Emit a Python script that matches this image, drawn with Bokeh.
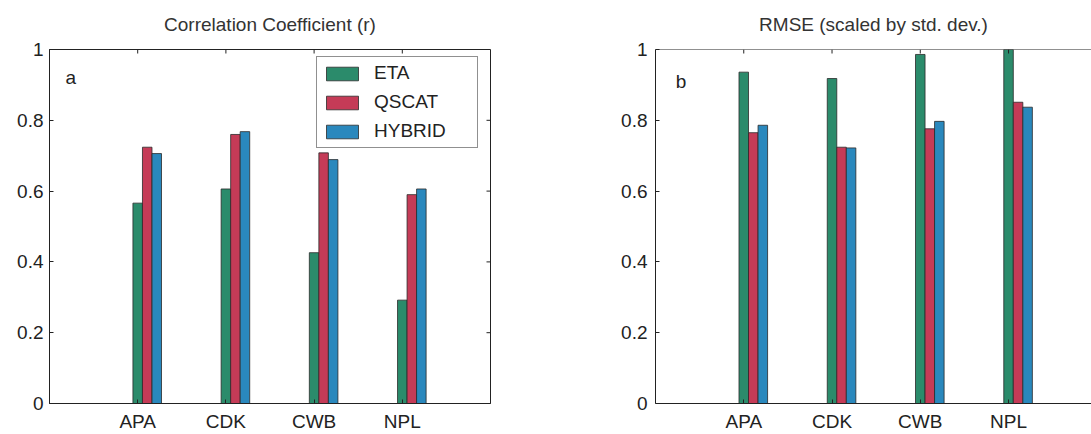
from bokeh.plotting import figure
from bokeh.models import ColumnDataSource, FixedTicker, Label, Range1d, Span
from bokeh.layouts import row
from bokeh.transform import dodge
from bokeh.embed import file_html
from bokeh.resources import INLINE

# ---- data ----
stations = ["APA", "CDK", "CWB", "NPL"]
station_pos = [1, 2, 3, 4]
series = ["ETA", "QSCAT", "HYBRID"]
corr_eta = [0.566, 0.606, 0.426, 0.292]
corr_qscat = [0.724, 0.760, 0.708, 0.590]
corr_hybrid = [0.706, 0.768, 0.689, 0.606]
rmse_eta = [0.936, 0.918, 0.986, 1.000]
rmse_qscat = [0.765, 0.724, 0.776, 0.851]
rmse_hybrid = [0.786, 0.722, 0.797, 0.837]
y_ticks = [0, 0.2, 0.4, 0.6, 0.8, 1]
y_tick_labels = ["0", "0.2", "0.4", "0.6", "0.8", "1"]

colors = ["#2b8b6b", "#c53b57", "#2a88bd"]
FONT = "Liberation Sans"
AX = "#222222"
bar_w = 0.108
offsets = [0.0, 0.108, 0.216]
FRAME_H = 354


def make_panel(title, vals, width, left_border, right_border, x_end, letter, letter_xy,
               legend=False, right_box=True, y_standoff=6, title_offset=0):
    frame_w = width - left_border - right_border
    p = figure(width=width, height=434, output_backend="svg", toolbar_location=None,
               x_range=Range1d(0, x_end), y_range=Range1d(0, 1),
               min_border_left=left_border, min_border_right=right_border,
               min_border_top=49, min_border_bottom=31, title=title)
    p.title.align = "center"
    p.title.vertical_align = "top"
    p.title.text_font = FONT
    p.title.text_font_size = "19px"
    p.title.text_font_style = "normal"
    p.title.text_color = "#333333"
    p.title.standoff = 26
    p.title.offset = title_offset
    p.grid.visible = False
    p.background_fill_color = "white"
    p.border_fill_color = "white"
    if right_box:
        p.outline_line_color = AX
        p.outline_line_alpha = 1
    else:
        p.outline_line_color = None
        p.add_layout(Span(location=1, dimension="width", line_color=AX, line_width=1))

    src = ColumnDataSource(dict(pos=station_pos, a=vals[0], b=vals[1], c=vals[2]))
    for i, (col, name) in enumerate(zip(["a", "b", "c"], series)):
        kw = dict(legend_label=name) if legend else {}
        p.vbar(x=dodge("pos", offsets[i], range=p.x_range), top=col, width=bar_w, bottom=0,
               source=src, fill_color=colors[i], line_color="#2a2a2a", line_width=0.8, **kw)

    # inward box ticks (top and right), from the tick arrays
    tick_len_y = 4.0 / FRAME_H
    p.segment(x0=station_pos, x1=station_pos, y0=[1] * 4, y1=[1 - tick_len_y] * 4,
              line_color=AX, line_width=1)
    if right_box:
        tick_len_x = 4.0 * x_end / frame_w
        p.segment(x0=[x_end] * len(y_ticks), x1=[x_end - tick_len_x] * len(y_ticks),
                  y0=y_ticks, y1=y_ticks, line_color=AX, line_width=1)

    xa = p.xaxis[0]
    xa.ticker = FixedTicker(ticks=station_pos)
    xa.major_label_overrides = {k: v for k, v in zip(station_pos, stations)}
    ya = p.yaxis[0]
    ya.ticker = FixedTicker(ticks=y_ticks)
    ya.major_label_overrides = {k: v for k, v in zip(y_ticks, y_tick_labels)}
    for ax in (xa, ya):
        ax.major_label_text_font = FONT
        ax.major_label_text_font_size = "19px"
        ax.major_label_text_color = AX
        ax.axis_line_color = AX
        ax.major_tick_line_color = AX
        ax.major_tick_in = 4
        ax.major_tick_out = 0
        ax.minor_tick_line_color = None
    xa.major_label_standoff = 7
    ya.major_label_standoff = y_standoff

    p.add_layout(Label(x=letter_xy[0], y=letter_xy[1], text=letter, text_font=FONT,
                       text_font_size="19px", text_color=AX))

    if legend:
        lg = p.legend[0]
        lg.location = (267, 255)
        lg.border_line_color = "#222222"
        lg.border_line_width = 1
        lg.background_fill_alpha = 1
        lg.label_text_font = FONT
        lg.label_text_font_size = "19px"
        lg.label_text_color = AX
        lg.glyph_width = 40
        lg.glyph_height = 17
        lg.label_height = 20
        lg.label_width = 98
        lg.label_standoff = 12
        lg.spacing = 7
        lg.padding = 5
        lg.margin = 0
    return p


p1 = make_panel("Correlation Coefficient (r)", [corr_eta, corr_qscat, corr_hybrid],
                width=550, left_border=49, right_border=60, x_end=5,
                letter="a", letter_xy=(0.18, 0.89), legend=True, y_standoff=6)
p2 = make_panel("RMSE (scaled by std. dev.)", [rmse_eta, rmse_qscat, rmse_hybrid],
                width=541, left_border=105, right_border=0, x_end=4.94,
                letter="b", letter_xy=(0.23, 0.88), legend=False, right_box=False,
                y_standoff=8, title_offset=6)

layout = row(p1, p2)
open("out.html", "w").write(file_html(layout, INLINE))
